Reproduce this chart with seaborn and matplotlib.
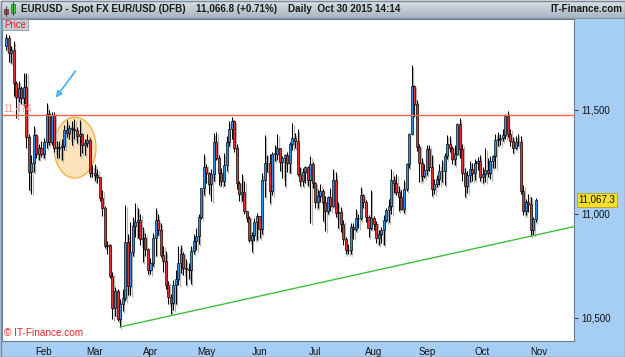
import numpy as np
import pandas as pd
import matplotlib
matplotlib.use("Agg")
import matplotlib.pyplot as plt
import matplotlib.transforms as mtransforms
from matplotlib.patches import Ellipse, Rectangle
from matplotlib.colors import LinearSegmentedColormap
import seaborn as sns

# ---------------- data (EUR/USD x10000, daily, from 2015-01-12) ----------------
start_date = "2015-01-12"
opens = [
    11810, 11845, 11774, 11790, 11630, 11564, 11606, 11556, 11609, 11368, 11204, 11243, 11381, 11290, 11318,
    11290, 11345, 11481, 11345, 11477, 11317, 11319, 11322, 11329, 11404, 11389, 11413, 11410, 11403, 11375, 11383, 11330, 11343, 11355, 11198,
    11195, 11186, 11178, 11076, 11031, 10844, 10853, 10700, 10548, 10628, 10494, 10565, 10595, 10867, 10655, 10819, 10940, 10960, 10971, 10882, 10887, 10830,
    10731, 10763, 10886, 10970, 10923, 10802, 10775, 10661, 10600, 10570, 10659, 10687, 10764, 10806, 10739, 10734, 10729, 10822, 10872, 10893, 10986, 11125,
    11224, 11198, 11146, 11192, 11347, 11268, 11199, 11159, 11237, 11346, 11410, 11448, 11315, 11147, 11094, 11106, 11016, 10982, 10874, 10897, 10960,
    10988, 10926, 11165, 11245, 11243, 11112, 11289, 11289, 11317, 11252, 11267, 11283, 11243, 11335, 11363, 11350, 11191, 11159, 11200, 11224, 11165, 11238,
    11147, 11058, 11085, 11111, 11056, 11015, 11080, 11040, 11164, 11003, 11011, 10950, 10880, 10829, 10825, 10936, 10929, 10981, 10980, 11090, 11060, 10986, 10933,
    10981, 10952, 10887, 10903, 10924, 10969, 11017, 11040, 11163, 11150, 11107, 11081, 11024, 11120, 11238, 11385, 11614, 11527, 11322, 11246, 11181,
    11211, 11313, 11228, 11120, 11144, 11169, 11205, 11206, 11280, 11338, 11318, 11266, 11288, 11432, 11312, 11196, 11133, 11187, 11215, 11195, 11247, 11257,
    11177, 11194, 11210, 11196, 11257, 11277, 11357, 11359, 11367, 11378, 11471, 11384, 11351, 11319, 11344, 11345, 11109, 11015, 11058, 11047, 10925, 10975,
]
highs = [
    11866, 11860, 11810, 11830, 11640, 11640, 11615, 11680, 11680, 11385, 11285, 11423, 11386, 11337, 11349,
    11366, 11534, 11498, 11490, 11488, 11352, 11352, 11360, 11430, 11450, 11430, 11448, 11455, 11420, 11450, 11390, 11360, 11385, 11365, 11235,
    11240, 11215, 11180, 11114, 11040, 10868, 10856, 10722, 10650, 10640, 10590, 10640, 11043, 10903, 10961, 10986, 11051, 11031, 11001, 10936, 10910, 10835,
    10790, 10907, 11030, 11000, 10956, 10848, 10821, 10679, 10616, 10684, 10733, 10846, 10849, 10819, 10784, 10766, 10847, 10903, 10935, 10998, 11127, 11290,
    11241, 11200, 11214, 11391, 11392, 11285, 11220, 11291, 11375, 11446, 11467, 11450, 11336, 11160, 11190, 11160, 11016, 10989, 10915, 10979, 11005,
    10990, 11195, 11380, 11286, 11287, 11296, 11334, 11385, 11318, 11279, 11287, 11300, 11346, 11437, 11389, 11410, 11228, 11222, 11229, 11230, 11278, 11248,
    11155, 11119, 11143, 11120, 11085, 11088, 11124, 11215, 11200, 11056, 11032, 10969, 10890, 10857, 10955, 10955, 11022, 11001, 11128, 11094, 11068, 10996, 11114,
    10990, 10968, 10925, 10938, 10995, 11030, 11070, 11214, 11185, 11190, 11135, 11113, 11163, 11246, 11390, 11714, 11620, 11548, 11335, 11270, 11240,
    11332, 11330, 11286, 11170, 11189, 11242, 11261, 11292, 11378, 11373, 11325, 11330, 11437, 11460, 11335, 11219, 11207, 11253, 11247, 11265, 11272, 11282,
    11227, 11317, 11270, 11278, 11286, 11387, 11395, 11386, 11410, 11479, 11495, 11411, 11372, 11375, 11383, 11374, 11139, 11070, 11094, 11084, 10987, 11076,
]
lows = [
    11788, 11730, 11727, 11568, 11460, 11540, 11530, 11520, 11315, 11113, 11098, 11200, 11270, 11262, 11275,
    11270, 11315, 11330, 11330, 11298, 11270, 11270, 11260, 11310, 11370, 11360, 11330, 11360, 11340, 11278, 11294, 11282, 11320, 11180, 11177,
    11160, 11150, 11062, 10988, 10838, 10808, 10690, 10494, 10510, 10484, 10457, 10533, 10581, 10611, 10610, 10800, 10891, 10885, 10851, 10767, 10797, 10713,
    10713, 10748, 10800, 10900, 10791, 10722, 10638, 10568, 10521, 10537, 10569, 10658, 10715, 10706, 10659, 10689, 10663, 10806, 10825, 10857, 10977, 11090,
    11150, 11096, 11064, 11157, 11261, 11140, 11135, 11137, 11205, 11328, 11359, 11298, 11122, 11061, 11064, 10999, 10962, 10866, 10819, 10872, 10877,
    10885, 10904, 11082, 11200, 11051, 11092, 11254, 11262, 11209, 11173, 11133, 11201, 11199, 11310, 11315, 11185, 11134, 11135, 11150, 11135, 10955, 11127,
    11030, 11030, 11059, 10968, 10916, 10999, 11016, 11034, 10987, 10934, 10915, 10852, 10808, 10809, 10808, 10882, 10916, 10933, 10972, 11031, 10960, 10890, 10925,
    10925, 10862, 10850, 10860, 10850, 10960, 10960, 11000, 11100, 11090, 11015, 11018, 11006, 11110, 11220, 11385, 11467, 11305, 11155, 11157, 11171,
    11186, 11205, 11087, 11095, 11132, 11140, 11154, 11140, 11265, 11297, 11238, 11234, 11283, 11270, 11160, 11082, 11100, 11156, 11158, 11162, 11212, 11160,
    11150, 11153, 11180, 11170, 11222, 11220, 11325, 11330, 11352, 11360, 11370, 11328, 11294, 11312, 11328, 11095, 10995, 10994, 11012, 10895, 10897, 10960,
]
closes = [
    11845, 11774, 11790, 11630, 11564, 11606, 11556, 11609, 11368, 11204, 11243, 11381, 11290, 11318, 11290,
    11345, 11481, 11345, 11477, 11317, 11319, 11322, 11329, 11404, 11389, 11413, 11410, 11403, 11375, 11383, 11330, 11343, 11355, 11198, 11195,
    11186, 11178, 11076, 11031, 10844, 10853, 10700, 10548, 10628, 10494, 10565, 10595, 10867, 10655, 10819, 10940, 10960, 10971, 10882, 10887, 10830, 10731,
    10763, 10886, 10970, 10923, 10802, 10775, 10661, 10600, 10570, 10659, 10687, 10764, 10806, 10739, 10734, 10729, 10822, 10872, 10893, 10986, 11125, 11224,
    11198, 11146, 11192, 11347, 11268, 11199, 11159, 11237, 11346, 11410, 11448, 11315, 11147, 11094, 11106, 11016, 10982, 10874, 10897, 10960, 10988,
    10926, 11165, 11245, 11243, 11112, 11289, 11289, 11317, 11252, 11267, 11283, 11243, 11335, 11363, 11350, 11191, 11159, 11200, 11224, 11165, 11238, 11147,
    11058, 11085, 11111, 11056, 11015, 11080, 11040, 11164, 11003, 11011, 10950, 10880, 10829, 10825, 10936, 10929, 10981, 10980, 11090, 11060, 10986, 10933, 10981,
    10952, 10887, 10903, 10924, 10969, 11017, 11040, 11163, 11150, 11107, 11081, 11024, 11120, 11238, 11385, 11614, 11527, 11322, 11246, 11181, 11211,
    11313, 11228, 11120, 11144, 11169, 11205, 11206, 11280, 11338, 11318, 11266, 11288, 11432, 11312, 11196, 11133, 11187, 11215, 11195, 11247, 11257, 11177,
    11194, 11210, 11196, 11257, 11277, 11357, 11359, 11367, 11378, 11471, 11384, 11351, 11319, 11344, 11345, 11109, 11015, 11058, 11047, 10925, 10975, 11067,
]

month_labels = ["Feb", "Mar", "Apr", "May", "Jun", "Jul", "Aug", "Sep", "Oct", "Nov"]
month_starts = ["2015-02-02", "2015-03-02", "2015-04-01", "2015-05-01", "2015-06-01",
                "2015-07-01", "2015-08-03", "2015-09-01", "2015-10-01", "2015-11-02"]
price_ticks = [10500, 11000, 11500]
resistance = 11474
trend_dates = ["2015-03-16", "2015-11-23"]
trend_values = [10457, 10942]
highlight_center_date = "2015-02-18"
highlight_center_price = 11319
last_price = 11067.3

title_main = "EURUSD - Spot FX EUR/USD (DFB)"
title_quote = "11,066.8 (+0.71%)"
title_time = "Daily  Oct 30 2015 14:14"
title_site = "IT-Finance.com"
copyright_text = "\u00a9 IT-Finance.com"
panel_label = "Price"

# ---------------- style ----------------
sns.set_style("white")
plt.rcParams["font.family"] = ["Liberation Sans", "DejaVu Sans"]

dates = pd.bdate_range(start_date, periods=len(closes))
df = pd.DataFrame({"date": dates, "open": opens, "high": highs, "low": lows, "close": closes})
df["idx"] = np.arange(len(df))
df["up"] = df["close"] >= df["open"]
body_bottom = np.minimum(df["open"], df["close"])
body_h = np.maximum(np.abs(df["close"] - df["open"]), 3)

def day_index(d):
    return int(np.busday_count(np.datetime64(start_date), np.datetime64(d)))

W, H = 625, 357
PANEL = "#a6cdf4"
fig = plt.figure(figsize=(W / 100, H / 100), dpi=100)
fig.patch.set_facecolor(PANEL)

ax = fig.add_axes([2 / W, (H - 341) / H, 572 / W, 322 / H])
ax.set_facecolor("white")
px_per_bar = 2.535
x0 = -4 / px_per_bar
ax.set_xlim(x0, x0 + 572 / px_per_bar)
ax.set_ylim(10389.4, 11937.5)

# highlight ellipse (behind candles)
ax.add_patch(Ellipse((day_index(highlight_center_date) + 0.2, highlight_center_price),
                     width=16.6, height=293, facecolor="#fde3ba", edgecolor="#f4b14c",
                     lw=1.0, zorder=1))

# shadows
sh_dx, sh_dy = 0.55, -9
ax.vlines(df["idx"] + sh_dx, df["low"] + sh_dy, df["high"] + sh_dy, color="#b4b4b4", lw=0.9, zorder=2)
ax.bar(df["idx"] + sh_dx, body_h, bottom=body_bottom + sh_dy, width=0.8, color="#b4b4b4", lw=0, zorder=2)

# candles
ax.vlines(df["idx"], df["low"], df["high"], color="black", lw=0.75, zorder=3)
colors = np.where(df["up"], "#2a92ee", "#e2322b")
ax.bar(df["idx"], body_h, bottom=body_bottom, width=0.8, color=colors,
       edgecolor="black", lw=0.45, zorder=4)

# resistance line and trend line
ax.axhline(resistance, color="#f2694c", lw=1.0, zorder=5)
sns.lineplot(x=[day_index(d) for d in trend_dates], y=trend_values, ax=ax,
             color="#3fbf3f", lw=1.0, zorder=5)

trans = mtransforms.blended_transform_factory(ax.transAxes, ax.transData)
ax.text(0.003, resistance + 8, f"{resistance:,}", transform=trans, ha="left", va="bottom",
        fontsize=7, color="#f29494", zorder=6)
ax.text(1.008, last_price, f"{last_price:,.1f}", transform=trans, ha="left", va="center",
        fontsize=7, color="#111111", clip_on=False, zorder=10,
        bbox=dict(boxstyle="square,pad=0.2", fc="#f6df2a", ec="#b5a21a", lw=0.6))
ax.text(0.004, 0.024, copyright_text, transform=ax.transAxes, ha="left", va="center",
        fontsize=7.2, color="#e4222a", zorder=6)

# axes ticks
ax.yaxis.tick_right()
ax.set_yticks(price_ticks)
ax.set_yticklabels([f"{v:,}" for v in price_ticks])
ax.tick_params(axis="y", direction="out", length=3, width=0.8, color="#3a4a5a",
               labelsize=7, pad=2, labelcolor="#111111")
ax.set_xticks([day_index(d) for d in month_starts])
ax.set_xticklabels(month_labels)
ax.tick_params(axis="x", direction="out", length=3, width=0.8, color="#3a4a5a",
               labelsize=7, pad=1.2, labelcolor="#111111")
ax.set_xlabel("")
ax.set_ylabel("")
for s in ax.spines.values():
    s.set_color("#6f7f8f")
    s.set_linewidth(0.8)

# arrow annotation
ax.annotate("", xy=(54, H - 100), xytext=(77, H - 69), xycoords="figure pixels",
            textcoords="figure pixels",
            arrowprops=dict(arrowstyle="-|>", color="#4fb5ee", lw=1.3, mutation_scale=9),
            zorder=7)

# ---------------- overlay: header bar, price tag, frame ----------------
ov = fig.add_axes([0, 0, 1, 1], zorder=20)
ov.patch.set_alpha(0)
grad = np.linspace(0, 1, 32)[:, None]
cmap = LinearSegmentedColormap.from_list("hdr", ["#dbe2e9", "#a9b5c2"])
ov.imshow(grad, extent=(0, W, 18, 0), cmap=cmap, aspect="auto", interpolation="bilinear")
ov.set_xlim(0, W)
ov.set_ylim(H, 0)
ov.axis("off")
ov.plot([0, W], [18, 18], color="#8292a2", lw=0.8)

# small candle icon
ov.plot([6, 6], [6, 16], color="#333333", lw=0.6)
ov.add_patch(Rectangle((4, 8.5), 4, 5.5, fc="#e8302c", ec="#333333", lw=0.4))
ov.plot([13, 13], [2, 15], color="#333333", lw=0.6)
ov.add_patch(Rectangle((11, 4), 4, 8.5, fc="#3ccc3c", ec="#333333", lw=0.4))

hdr = dict(fontsize=7.1, weight="bold", color="#1a1a1a", va="center")
ov.text(21, 9.5, title_main, ha="left", **hdr)
ov.text(196, 9.5, title_quote, ha="left", **hdr)
ov.text(288, 9.5, title_time, ha="left", **hdr)
ov.text(622, 9.5, title_site, ha="right", **hdr)

ov.add_patch(Rectangle((2, 19), 26, 11, fc="#c4ccd4", ec="#8e99a5", lw=0.6))
ov.text(15, 24.8, panel_label, ha="center", va="center", fontsize=7, color="#e3222a")

ov.add_patch(Rectangle((0.5, 0.5), W - 1, H - 1, fill=False, ec="#7d8a98", lw=1.0))

fig.savefig("out.png", dpi=100)
